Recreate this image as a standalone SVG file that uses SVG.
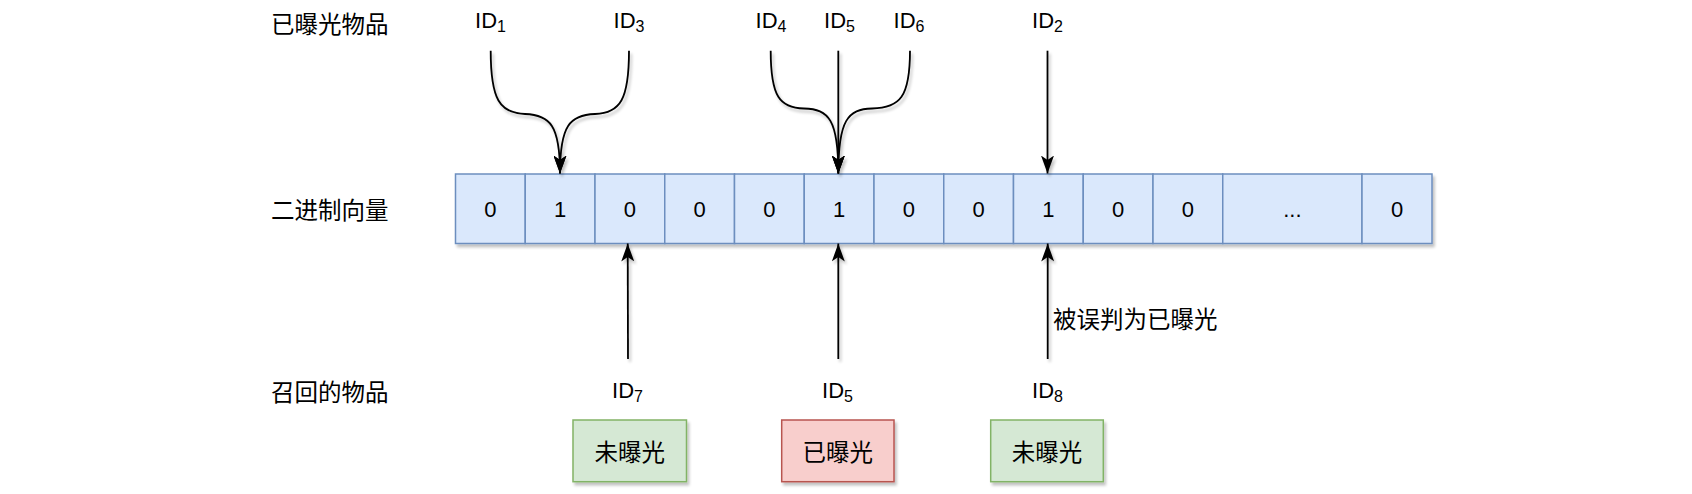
<svg xmlns="http://www.w3.org/2000/svg" width="1692" height="494" viewBox="0 0 1692 494">
<style>
.cjk{font-family:"Noto Sans CJK SC","Liberation Sans",sans-serif;font-size:23.5px;fill:#000;dominant-baseline:central}
.lat{font-family:"Liberation Sans",Arial,sans-serif;font-size:22px;fill:#000}
.sub{font-size:16px}
.cell{fill:#dae8fc;stroke:#6c8ebf;stroke-width:1.5}
.g{fill:#d5e8d4;stroke:#82b366;stroke-width:1.5}
.r{fill:#f8cecc;stroke:#b85450;stroke-width:1.5}
.e{fill:none;stroke:#000;stroke-width:1.8;marker-end:url(#arr)}
</style>
<defs>
<filter id="sh" filterUnits="userSpaceOnUse" x="0" y="0" width="1692" height="494">
<feGaussianBlur in="SourceAlpha" stdDeviation="1.8"/>
<feOffset dx="2" dy="3" result="o"/>
<feComponentTransfer><feFuncA type="linear" slope="0.25"/></feComponentTransfer>
<feMerge><feMergeNode/><feMergeNode in="SourceGraphic"/></feMerge>
</filter>
<marker id="arr" markerUnits="userSpaceOnUse" viewBox="0 0 18 13" refX="18" refY="6.5" markerWidth="18" markerHeight="13" orient="auto">
<path d="M18,6.5 L0,0 L4.5,6.5 L0,13 Z" fill="#000"/>
</marker>
</defs>
<rect width="1692" height="494" fill="#fff"/>

<g id="label-exposed"><text class="cjk" x="271" y="22.5">已曝光物品</text></g>
<g id="label-vector"><text class="cjk" x="271" y="209">二进制向量</text></g>
<g id="label-recall"><text class="cjk" x="271" y="391">召回的物品</text></g>

<g id="top-ids">
<g id="id1"><text class="lat" x="490.5" y="28.3" text-anchor="middle">ID<tspan class="sub" dy="3.4">1</tspan></text></g>
<g id="id3"><text class="lat" x="629" y="28.3" text-anchor="middle">ID<tspan class="sub" dy="3.4">3</tspan></text></g>
<g id="id4"><text class="lat" x="771" y="28.3" text-anchor="middle">ID<tspan class="sub" dy="3.4">4</tspan></text></g>
<g id="id5top"><text class="lat" x="839.5" y="28.3" text-anchor="middle">ID<tspan class="sub" dy="3.4">5</tspan></text></g>
<g id="id6"><text class="lat" x="909" y="28.3" text-anchor="middle">ID<tspan class="sub" dy="3.4">6</tspan></text></g>
<g id="id2"><text class="lat" x="1047.5" y="28.3" text-anchor="middle">ID<tspan class="sub" dy="3.4">2</tspan></text></g>
</g>

<g id="vector" filter="url(#sh)">
<rect class="cell" x="455.5" y="174" width="69.75" height="69.5"/>
<rect class="cell" x="525.25" y="174" width="69.75" height="69.5"/>
<rect class="cell" x="595" y="174" width="69.75" height="69.5"/>
<rect class="cell" x="664.75" y="174" width="69.75" height="69.5"/>
<rect class="cell" x="734.5" y="174" width="69.75" height="69.5"/>
<rect class="cell" x="804.25" y="174" width="69.75" height="69.5"/>
<rect class="cell" x="874" y="174" width="69.75" height="69.5"/>
<rect class="cell" x="943.75" y="174" width="69.75" height="69.5"/>
<rect class="cell" x="1013.5" y="174" width="69.75" height="69.5"/>
<rect class="cell" x="1083.25" y="174" width="69.75" height="69.5"/>
<rect class="cell" x="1153" y="174" width="69.75" height="69.5"/>
<rect class="cell" x="1222.75" y="174" width="139.25" height="69.5"/>
<rect class="cell" x="1362" y="174" width="70" height="69.5"/>
</g>
<g id="vector-values" text-anchor="middle">
<text class="lat" x="490.4" y="216.7">0</text>
<text class="lat" x="560.1" y="216.7">1</text>
<text class="lat" x="629.9" y="216.7">0</text>
<text class="lat" x="699.6" y="216.7">0</text>
<text class="lat" x="769.4" y="216.7">0</text>
<text class="lat" x="839.1" y="216.7">1</text>
<text class="lat" x="908.9" y="216.7">0</text>
<text class="lat" x="978.6" y="216.7">0</text>
<text class="lat" x="1048.4" y="216.7">1</text>
<text class="lat" x="1118.1" y="216.7">0</text>
<text class="lat" x="1187.9" y="216.7">0</text>
<text class="lat" x="1292.4" y="216.7">...</text>
<text class="lat" x="1397" y="216.7">0</text>
</g>

<g id="connectors" filter="url(#sh)">
<path class="e" d="M490.7,50.7 C490.7,100 500,113 525,114 C550,115 560,125 560,173.5"/>
<path class="e" d="M629,50.7 C629,100 620,113 595,114 C570,115 560,125 560,173.5"/>
<path class="e" d="M770.7,50.7 C770.7,97 780,108 804,108.5 C829,109 838.3,120 838.3,173.5"/>
<path class="e" d="M910,50.7 C910,97 900,108 872,108.5 C848,109 838.3,120 838.3,173.5"/>
<path class="e" d="M838.3,50.7 L838.3,173.5"/>
<path class="e" d="M1047.5,50.7 L1047.5,173.5"/>
<path class="e" d="M628,359 L627.7,243.5"/>
<path class="e" d="M838.3,359 L838.3,243.5"/>
<path class="e" d="M1047.7,359 L1047.7,243.5"/>
</g>
<g id="edge-label"><text class="cjk" x="1053" y="318">被误判为已曝光</text></g>

<g id="bottom-ids">
<g id="id7"><text class="lat" x="627.5" y="398.3" text-anchor="middle">ID<tspan class="sub" dy="3.4">7</tspan></text></g>
<g id="id5bottom"><text class="lat" x="837.5" y="398.3" text-anchor="middle">ID<tspan class="sub" dy="3.4">5</tspan></text></g>
<g id="id8"><text class="lat" x="1047.5" y="398.3" text-anchor="middle">ID<tspan class="sub" dy="3.4">8</tspan></text></g>
</g>

<g id="box-unexposed-1">
<rect class="g" x="573" y="420" width="113.5" height="61.7" filter="url(#sh)"/>
<text class="cjk" x="629.7" y="450.5" text-anchor="middle">未曝光</text>
</g>
<g id="box-exposed">
<rect class="r" x="781.7" y="420" width="112.3" height="61.7" filter="url(#sh)"/>
<text class="cjk" x="837.8" y="450.5" text-anchor="middle">已曝光</text>
</g>
<g id="box-unexposed-2">
<rect class="g" x="990.7" y="420" width="112.6" height="61.7" filter="url(#sh)"/>
<text class="cjk" x="1047" y="450.5" text-anchor="middle">未曝光</text>
</g>
</svg>
